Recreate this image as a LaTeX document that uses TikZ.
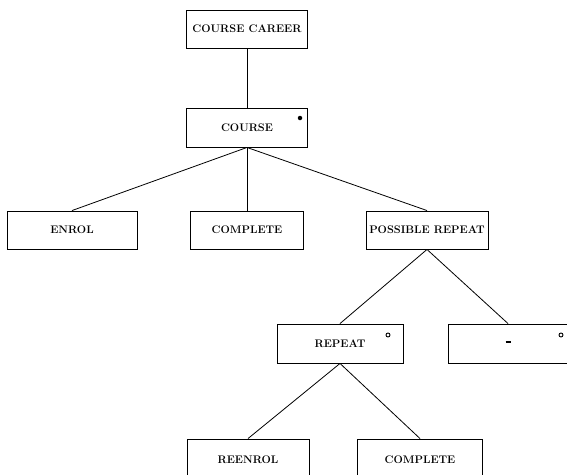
\documentclass[tikz,border=0pt]{standalone}
\begin{document}
\begin{tikzpicture}[x=1pt,y=-1pt,
  jbox/.style={draw,line width=0.9pt,rectangle,inner sep=0pt,font=\bfseries\fontsize{11}{13}\selectfont},
  link/.style={line width=0.8pt},
  sel/.style={draw,line width=0.9pt,circle,inner sep=0pt,minimum size=4pt},
  seq/.style={fill,circle,inner sep=0pt,minimum size=4.5pt}]
\useasboundingbox (0,0) rectangle (567,474);
\node[jbox,minimum width=121pt,minimum height=38pt] (career) at (247,29) {COURSE CAREER};
\node[jbox,minimum width=121pt,minimum height=39pt] (course) at (247,127.5) {COURSE};
\node[jbox,minimum width=130pt,minimum height=38pt] (enrol) at (72,230) {ENROL};
\node[jbox,minimum width=113pt,minimum height=38pt] (complete) at (247,230) {COMPLETE};
\node[jbox,minimum width=122pt,minimum height=38pt] (possible) at (427,230) {POSSIBLE REPEAT};
\node[jbox,minimum width=126pt,minimum height=39pt] (repeat) at (340,343.5) {REPEAT};
\node[jbox,minimum width=120pt,minimum height=39pt] (dash) at (508,343.5) {\rule[2.5pt]{5pt}{1.8pt}};
\node[jbox,minimum width=122pt,minimum height=42pt] (reenrol) at (248,460) {REENROL};
\node[jbox,minimum width=125pt,minimum height=42pt] (complete2) at (420,460) {COMPLETE};
\node[seq] (m1) at (300,118) {};
\node[sel] (m2) at (388,335) {};
\node[sel] (m3) at (561,335) {};
\draw[link] (career.south) -- (course.north);
\draw[link] (course.south) -- (enrol.north);
\draw[link] (course.south) -- (complete.north);
\draw[link] (course.south) -- (possible.north);
\draw[link] (possible.south) -- (repeat.north);
\draw[link] (possible.south) -- (dash.north);
\draw[link] (repeat.south) -- (reenrol.north);
\draw[link] (repeat.south) -- (complete2.north);
\end{tikzpicture}
\end{document}
